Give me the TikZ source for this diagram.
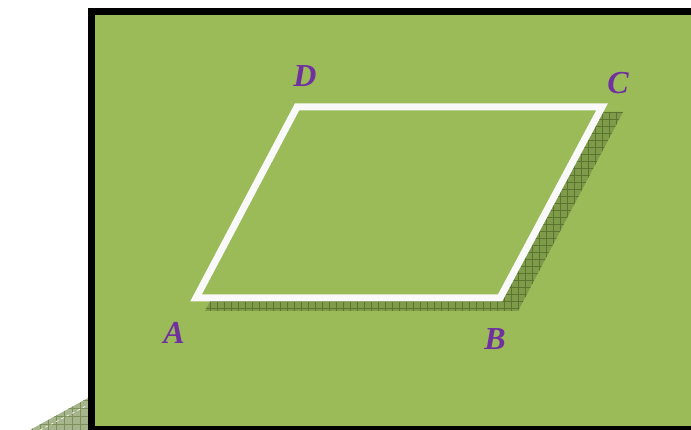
\documentclass[tikz,border=0pt]{standalone}
\usepackage{fontspec}
\setmainfont{Liberation Serif}
\definecolor{bg}{HTML}{9BBB59}
\definecolor{shadowgreen}{HTML}{7E9B4A}
\definecolor{shadeline}{HTML}{5B7530}
\definecolor{lab}{HTML}{7030A0}
\definecolor{ghost}{HTML}{A6B58C}
\begin{document}
\begin{tikzpicture}[x=1pt,y=-1pt,
  lbl/.style={text=lab,font=\fontsize{32}{32}\selectfont\bfseries\itshape,inner sep=0pt},
  edge/.style={draw=white!95!gray,line width=7pt,line join=miter},
  gridlines/.style={line width=0.6pt}]
\useasboundingbox (0,0) rectangle (691,430);
% ghost shadow of the panel
\begin{scope}
\clip (30,430) -- (88,398) -- (88,430) -- cycle;
\fill[ghost] (0,390) rectangle (90,432);
\draw[gridlines,draw=shadeline!80,step=8pt] (24,384) grid (96,440);
\draw[white,dashed,line width=0.6pt] (40,430) -- (88,405);
\end{scope}
% panel
\fill[bg] (91.5,11.5) rectangle (700,440);
\draw[black,line width=7pt] (700,11.5) -- (91.5,11.5) -- (91.5,440);
\draw[black,line width=4pt] (88,428) -- (700,428);
% corners
\coordinate (A) at (196,298);
\coordinate (B) at (500,298);
\coordinate (C) at (602,107);
\coordinate (D) at (297,107);
% shadow
\fill[shadowgreen] (205,311) -- (518,311) -- (623,112) -- (309,112) -- cycle;
\begin{scope}
\clip (205,311) -- (518,311) -- (623,112) -- (309,112) -- cycle;
\draw[gridlines,draw=shadeline,step=7pt] (196,98) grid (630,322);
\end{scope}
\fill[bg] (A) -- (B) -- (C) -- (D) -- cycle;
\draw[edge] (A) -- (B) -- (C) -- (D) -- cycle;
\node[lbl] (lA) at (174,333) {A};
\node[lbl] (lB) at (495,339) {B};
\node[lbl] (lC) at (618,83) {C};
\node[lbl] (lD) at (305,76) {D};
\end{tikzpicture}
\end{document}
